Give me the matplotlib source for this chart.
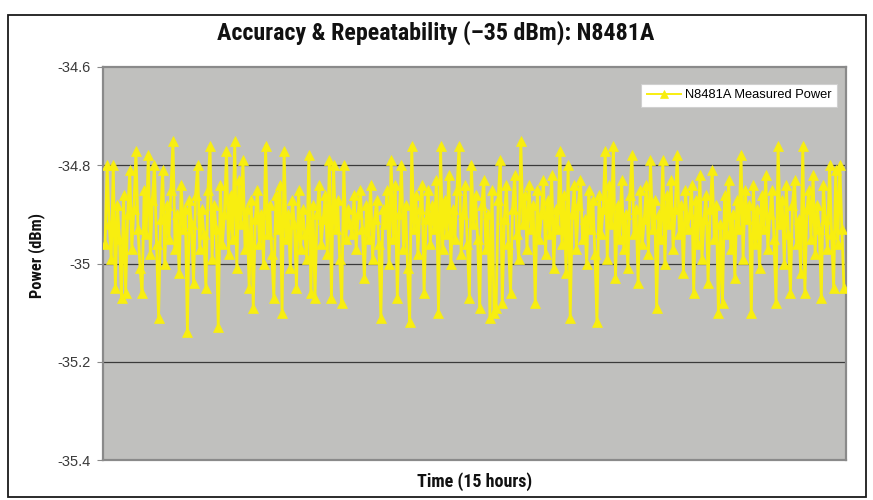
import matplotlib
matplotlib.use("Agg")
import matplotlib.pyplot as plt
from matplotlib.patches import Rectangle
from matplotlib import font_manager

title = "Accuracy & Repeatability (\u201335 dBm): N8481A"
ylabel = "Power (dBm)"
xlabel = "Time (15 hours)"
series_name = "N8481A Measured Power"
yticks = [-35.4, -35.2, -35.0, -34.8, -34.6]
ytick_labels = ["-35.4", "-35.2", "-35", "-34.8", "-34.6"]

power = [
    -34.96, -34.80, -34.92, -34.99, -34.80, -35.05, -34.88, -34.95, -35.07, -34.86,
    -35.06, -34.90, -34.81, -34.97, -34.89, -34.77, -34.93, -35.01, -35.06, -34.85,
    -34.94, -34.78, -34.98, -34.87, -34.80, -34.96, -35.11, -34.91, -34.81, -35.00,
    -34.88, -34.95, -34.85, -34.75, -34.97, -34.90, -35.02, -34.84, -34.93, -34.89,
    -35.14, -34.87, -34.92, -35.04, -34.86, -34.80, -34.97, -34.89, -34.94, -35.05,
    -34.85, -34.76, -34.99, -34.88, -34.93, -35.13, -34.84, -34.96, -34.90, -34.77,
    -34.98, -34.86, -34.95, -34.75, -35.01, -34.83, -34.92, -34.79, -34.97, -34.89,
    -35.05, -34.87, -35.09, -34.91, -34.85, -34.96, -34.90, -35.00, -34.76, -34.94,
    -34.88, -34.98, -35.07, -34.86, -34.93, -34.84, -35.10, -34.77, -34.95, -34.90,
    -35.01, -34.87, -34.92, -35.05, -34.85, -34.97, -34.89, -34.94, -34.99, -34.78,
    -35.06, -34.88, -35.07, -34.90, -34.84, -34.96, -34.91, -34.86, -34.98, -34.79,
    -35.07, -34.80, -34.93, -34.87, -34.99, -35.08, -34.80, -34.95, -34.89, -34.92,
    -34.94, -34.86, -34.97, -34.90, -34.85, -34.93, -35.03, -34.88, -34.95, -34.84,
    -34.99, -34.91, -34.87, -34.96, -35.11, -34.89, -34.92, -34.85, -35.00, -34.79,
    -34.95, -34.84, -35.07, -34.90, -34.80, -34.97, -34.88, -35.01, -35.12, -34.76,
    -34.93, -34.86, -34.98, -34.89, -34.84, -35.06, -34.91, -34.85, -34.96, -34.88,
    -34.93, -34.83, -35.10, -34.76, -34.97, -34.87, -34.94, -34.82, -35.00, -34.89,
    -34.95, -34.85, -34.76, -34.98, -34.90, -34.84, -34.96, -35.07, -34.80, -34.92,
    -34.86, -34.95, -35.09, -34.88, -34.83, -34.97, -34.90, -35.11, -34.85, -35.10,
    -35.09, -34.87, -34.79, -35.08, -34.91, -34.84, -34.96, -35.06, -34.89, -34.82,
    -34.94, -34.99, -34.75, -34.92, -34.86, -34.97, -34.84, -34.93, -34.88, -35.08,
    -34.85, -34.95, -34.90, -34.83, -34.98, -34.87, -34.94, -34.82, -35.01, -34.89,
    -34.93, -34.77, -34.96, -34.86, -35.02, -34.80, -35.11, -34.90, -34.84, -34.97,
    -34.88, -34.83, -34.95, -34.91, -35.00, -34.85, -34.93, -34.87, -34.98, -35.12,
    -34.86, -34.94, -34.89, -34.77, -34.99, -34.84, -34.92, -34.76, -35.03, -34.88,
    -34.95, -34.83, -34.97, -34.90, -35.01, -34.86, -34.78, -34.94, -34.89, -35.04,
    -34.85, -34.96, -34.91, -34.84, -34.98, -34.79, -34.93, -34.87, -35.09, -34.90,
    -34.95, -34.79, -35.00, -34.86, -34.92, -34.83, -34.97, -34.89, -34.78, -34.94,
    -34.88, -35.02, -34.85, -34.93, -34.90, -34.84, -35.06, -34.87, -34.96, -34.82,
    -34.99, -34.91, -34.86, -35.04, -34.89, -34.81, -34.95, -34.88, -35.10, -34.92,
    -35.08, -34.86, -34.94, -34.83, -34.97, -34.90, -35.03, -34.87, -34.93, -34.78,
    -34.99, -34.85, -34.91, -34.88, -35.10, -34.84, -34.96, -34.89, -35.01, -34.86,
    -34.93, -34.82, -34.97, -34.90, -34.85, -34.95, -35.08, -34.76, -34.92, -34.87,
    -35.00, -34.84, -34.94, -35.06, -34.88, -34.83, -34.96, -34.91, -35.02, -34.76,
    -35.06, -34.89, -34.85, -34.95, -34.82, -34.98, -34.88, -34.93, -35.07, -34.84,
    -34.91, -34.97, -34.80, -34.94, -35.05, -34.81, -34.96, -34.80, -34.93, -35.05,
]
samples = list(range(len(power)))

names = {f.name for f in font_manager.fontManager.ttflist}
cond_fams = [n for n in ["Liberation Sans Narrow", "Roboto Condensed",
                         "Open Sans Condensed", "DejaVu Sans Condensed"] if n in names]
narrow = cond_fams + ["DejaVu Sans"]
regular = ["Liberation Sans", "DejaVu Sans"]

fig = plt.figure(figsize=(8.73, 5.0), dpi=100)
fig.patch.set_facecolor("white")
fig.patches.append(Rectangle((8 / 873, 3 / 500), 858 / 873, 482 / 500,
                             transform=fig.transFigure, fill=False,
                             edgecolor="#1a1a1a", linewidth=1.3))

ax = fig.add_axes([103 / 873, 40 / 500, 743 / 873, 393 / 500])
ax.set_facecolor("#C0C0BE")
for s in ax.spines.values():
    s.set_color("#8a8a8a")
    s.set_linewidth(1.6)

for gy in yticks[1:-1]:
    ax.axhline(gy, color="#3a3a3a", linewidth=0.9, zorder=1)

yellow = "#F8EE10"
ax.plot(samples, power, color=yellow, linewidth=2.0, marker="^",
        markersize=7, markeredgewidth=0.5, markeredgecolor=yellow,
        markerfacecolor=yellow, label=series_name, zorder=3)

ax.set_xlim(-1, len(power))
ax.set_ylim(-35.4, -34.6)
ax.set_xticks([])
ax.set_yticks(yticks)
ax.set_yticklabels(ytick_labels, family=regular, fontsize=10.5, color="#3a3a3a")
ax.tick_params(axis="y", direction="out", length=4, color="#8a8a8a", pad=5)

leg = ax.legend(loc="upper right", bbox_to_anchor=(0.988, 0.958), frameon=True,
                fancybox=False, prop={"family": regular, "size": 9.3},
                handlelength=2.6, borderpad=0.45, handletextpad=0.3,
                borderaxespad=0, markerscale=0.8)
leg.get_frame().set_facecolor("white")
leg.get_frame().set_edgecolor("#d0d0d0")
leg.get_frame().set_linewidth(0.8)
leg.get_frame().set_alpha(1)
for h in leg.get_lines():
    h.set_linewidth(1.4)

fig.text(436 / 873, 1 - 33 / 500, title, ha="center", va="center",
         family=narrow, fontweight="bold", fontstretch="condensed",
         fontsize=17.3, color="#111111")
fig.text(37 / 873, 1 - 256 / 500, ylabel, ha="center", va="center",
         rotation=90, family=narrow, fontweight="bold", fontstretch="condensed",
         fontsize=11.8, color="#111111")
fig.text(475 / 873, 1 - 482 / 500, xlabel, ha="center", va="center",
         family=narrow, fontweight="bold", fontstretch="condensed",
         fontsize=13, color="#111111")

fig.savefig("out.png", dpi=100)
